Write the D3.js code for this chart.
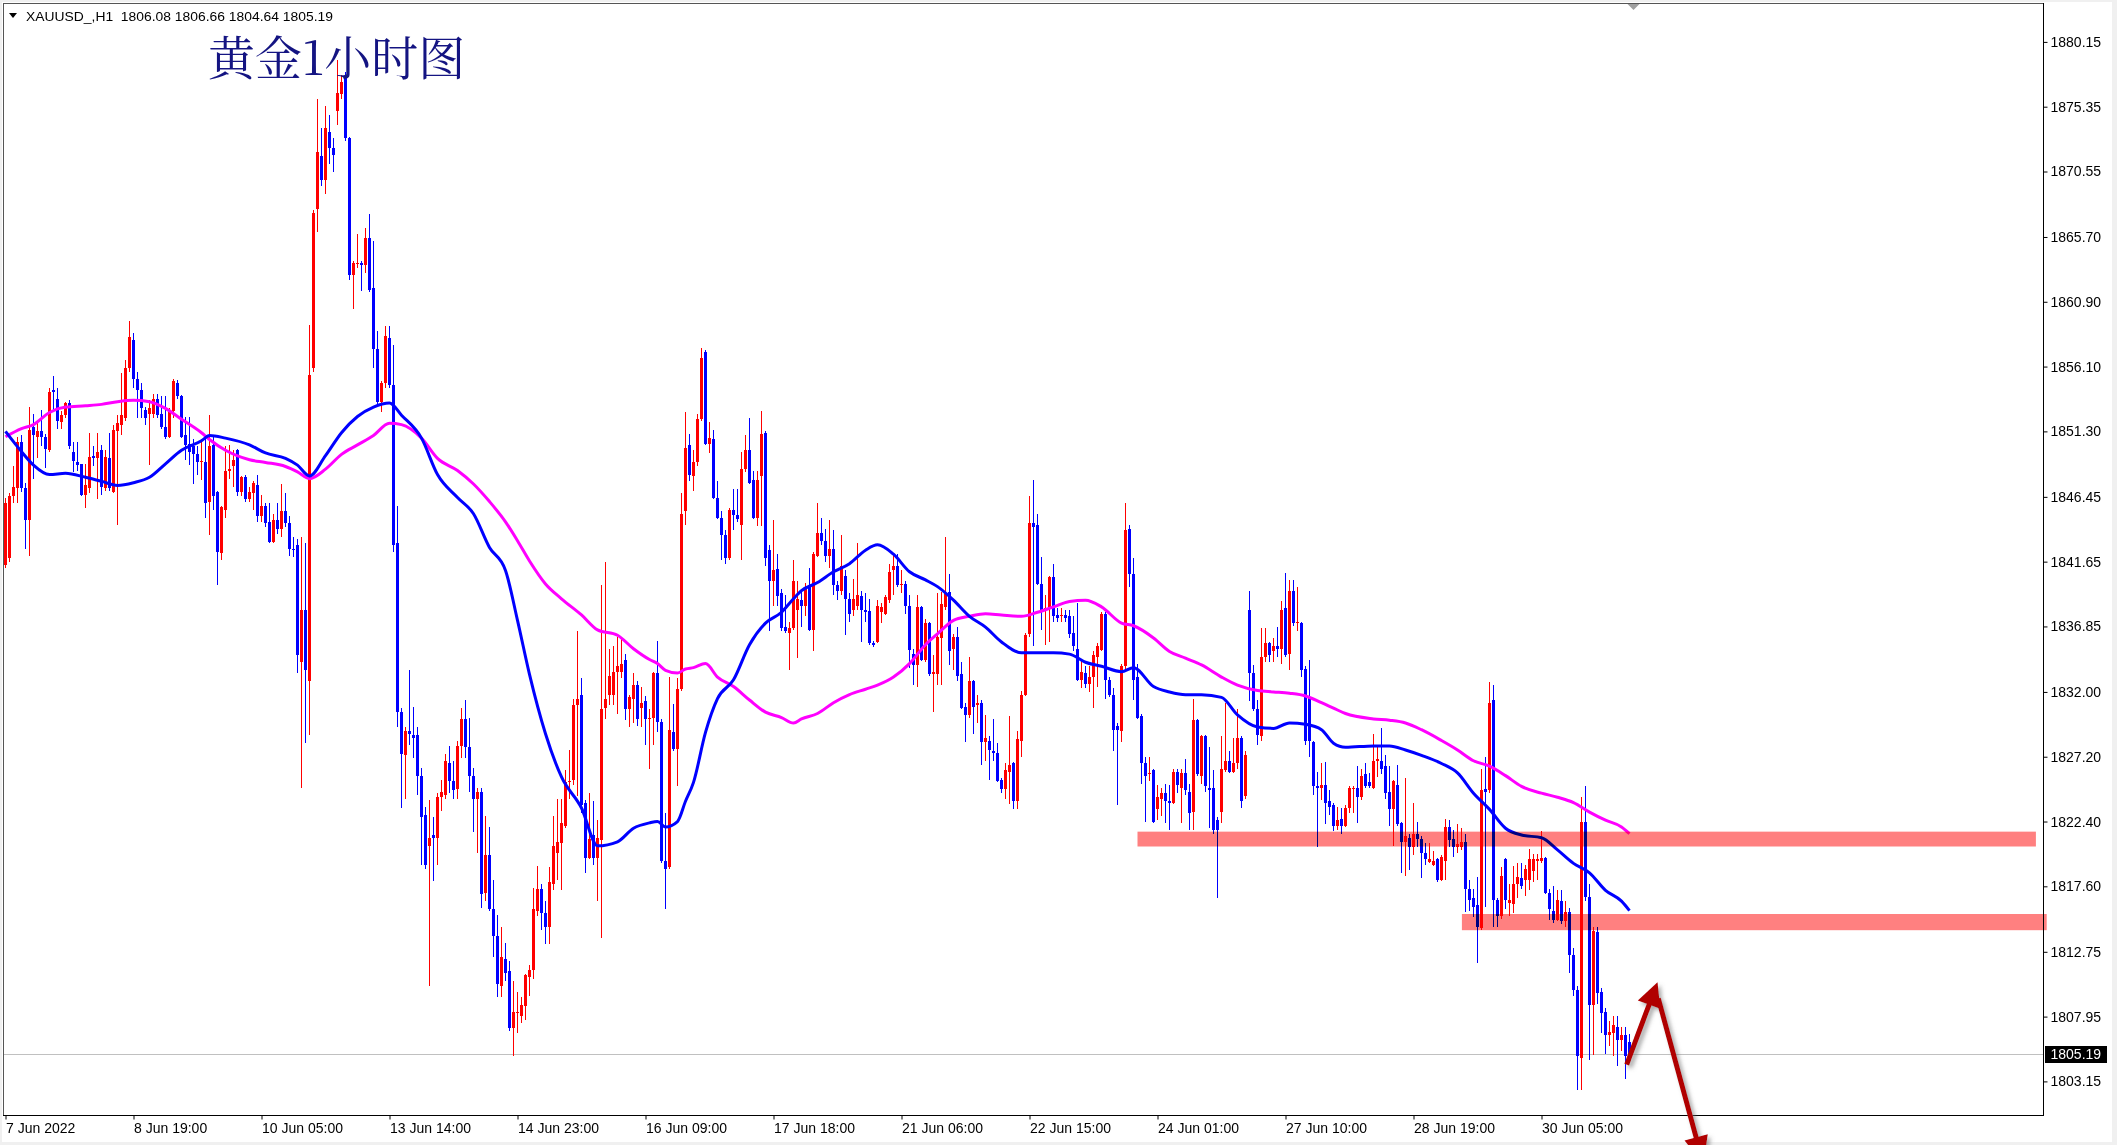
<!DOCTYPE html>
<html><head><meta charset="utf-8">
<script src="https://cdn.jsdelivr.net/npm/d3@7"></script>
<style>
html,body{margin:0;padding:0;background:#fff;overflow:hidden;}
svg{display:block;}
</style></head><body>
<svg id="chart" width="2117" height="1145"></svg>
<script>
// ---------------- DATA ----------------
const headerSymbol = "XAUUSD_,H1";
const headerOHLC = [1806.08, 1806.66, 1804.64, 1805.19];
const chartTitle = "黄金1小时图";
const lastPrice = 1805.19;

const xTickIndex = [0,32,64,96,128,160,192,224,256,288,320,352,384];
const xTickLabels = ["7 Jun 2022","8 Jun 19:00","10 Jun 05:00","13 Jun 14:00","14 Jun 23:00","16 Jun 09:00","17 Jun 18:00","21 Jun 06:00","22 Jun 15:00","24 Jun 01:00","27 Jun 10:00","28 Jun 19:00","30 Jun 05:00"];
const yTickValues = [1880.15,1875.35,1870.55,1865.70,1860.90,1856.10,1851.30,1846.45,1841.65,1836.85,1832.00,1827.20,1822.40,1817.60,1812.75,1807.95,1803.15];

const opens = [
1841.4,1841.9,1846.5,1847.1,1850.5,1847.1,1844.7,1851.6,1850.9,1851.3,
1850.9,1849.9,1854.4,1853.7,1852.0,1852.5,1853.4,1849.8,1849.0,1848.9,
1846.6,1847.1,1849.5,1849.3,1849.9,1847.1,1849.3,1846.8,1851.3,1851.8,
1852.3,1856.0,1858.1,1855.2,1854.4,1852.9,1852.6,1852.6,1853.7,1852.6,
1851.6,1850.9,1852.8,1854.9,1853.9,1851.0,1850.4,1850.2,1849.6,1849.0,
1849.0,1846.1,1850.3,1846.8,1842.3,1845.5,1848.4,1848.7,1849.9,1846.8,
1847.9,1846.3,1846.7,1847.3,1845.0,1845.8,1844.6,1843.1,1844.7,1844.1,
1845.4,1844.5,1842.6,1842.9,1834.2,1838.1,1832.8,1856.0,1867.8,1871.7,
1869.9,1873.5,1872.3,1875.0,1876.3,1877.6,1873.0,1862.9,1863.7,1863.8,
1863.6,1865.6,1861.9,1857.4,1853.5,1854.9,1858.2,1854.7,1843.0,1830.5,
1827.3,1829.1,1828.8,1828.8,1825.8,1822.9,1820.6,1821.4,1821.2,1824.2,
1824.4,1826.7,1825.4,1824.8,1828.0,1830.0,1827.9,1825.8,1824.1,1824.6,
1817.1,1819.9,1815.9,1813.9,1810.2,1812.2,1811.3,1807.1,1808.2,1808.0,
1808.7,1810.9,1811.4,1815.8,1817.4,1815.6,1814.6,1817.8,1820.1,1820.8,
1822.1,1825.3,1825.5,1831.0,1831.8,1823.8,1819.7,1821.4,1819.7,1821.0,
1830.8,1831.8,1831.8,1833.5,1833.5,1834.4,1830.7,1831.5,1832.5,1830.8,
1831.3,1830.0,1830.1,1833.4,1829.8,1819.5,1819.0,1829.0,1827.8,1832.2,
1845.4,1850.3,1848.0,1849.0,1852.2,1857.2,1850.4,1850.7,1846.4,1844.9,
1843.6,1841.9,1845.5,1845.1,1844.4,1848.5,1849.9,1847.7,1844.9,1848.0,
1851.2,1842.5,1840.2,1841.1,1839.3,1836.8,1836.4,1836.7,1838.1,1838.8,
1838.4,1839.8,1836.6,1842.1,1843.8,1843.2,1842.1,1842.6,1839.9,1839.5,
1840.6,1838.9,1838.1,1838.4,1839.1,1838.1,1838.0,1835.6,1835.7,1837.9,
1837.8,1838.8,1841.0,1841.3,1839.9,1840.0,1838.4,1834.8,1834.0,1838.3,
1834.4,1837.1,1833.3,1833.3,1836.0,1838.3,1839.4,1835.2,1836.1,1833.3,
1830.9,1830.3,1832.8,1831.0,1831.2,1828.3,1828.4,1827.6,1827.5,1825.5,
1824.8,1826.1,1826.7,1823.9,1828.4,1831.8,1836.3,1844.5,1844.4,1840.0,
1838.1,1838.2,1840.5,1837.7,1837.6,1837.7,1837.6,1836.4,1835.2,1832.9,
1833.4,1832.6,1833.1,1834.6,1835.1,1837.8,1832.9,1831.8,1829.5,1829.1,
1833.9,1844.1,1840.7,1833.1,1830.2,1826.7,1825.9,1826.2,1823.3,1824.1,
1824.5,1823.9,1823.8,1826.1,1824.9,1826.0,1824.6,1823.1,1829.9,1825.8,
1828.7,1824.9,1824.9,1822.5,1823.1,1826.2,1826.9,1826.1,1826.7,1828.6,
1824.3,1838.1,1833.4,1830.7,1828.7,1834.6,1835.6,1835.0,1835.4,1835.2,
1838.2,1834.8,1839.5,1837.1,1837.1,1833.7,1831.6,1828.3,1825.0,1824.9,
1825.1,1823.9,1823.6,1822.1,1822.6,1822.1,1823.4,1824.8,1824.9,1824.2,
1825.9,1825.3,1824.9,1826.9,1826.9,1826.5,1824.6,1823.3,1825.1,1822.3,
1820.9,1821.2,1820.5,1821.5,1821.1,1820.1,1819.4,1819.2,1819.6,1818.1,
1819.5,1822.0,1821.1,1820.5,1820.5,1820.9,1817.4,1816.7,1816.2,1814.5,
1824.8,1824.7,1831.4,1816.6,1815.4,1819.6,1816.4,1816.3,1817.8,1818.2,
1818.1,1818.1,1818.7,1819.5,1819.5,1819.7,1817.1,1815.8,1815.1,1816.5,
1815.0,1815.7,1812.5,1809.9,1804.9,1822.4,1816.8,1808.8,1814.2,1809.8,
1808.3,1806.6,1806.7,1807.2,1806.2,1806.6,1806.08];

const highs = [
1846.4,1846.7,1848.7,1850.9,1851.0,1847.5,1853.1,1852.6,1852.1,1852.9,
1851.1,1854.5,1855.4,1854.5,1852.8,1853.5,1853.6,1850.5,1850.5,1848.9,
1848.9,1851.2,1850.2,1851.2,1850.3,1849.9,1851.2,1851.8,1852.5,1855.6,
1856.6,1859.5,1858.6,1855.7,1854.9,1853.1,1853.6,1854.1,1854.1,1853.9,
1853.9,1853.0,1855.2,1855.1,1854.0,1852.4,1852.4,1850.7,1850.2,1850.7,
1850.8,1852.5,1850.9,1846.9,1845.8,1850.2,1850.3,1849.9,1850.0,1848.0,
1848.1,1847.2,1847.6,1848.1,1846.6,1846.0,1846.0,1845.2,1846.0,1847.4,
1846.7,1845.0,1843.5,1843.3,1843.5,1843.0,1859.2,1867.7,1875.9,1873.8,
1875.4,1874.7,1873.0,1878.8,1877.7,1877.9,1873.1,1863.9,1865.9,1863.9,
1866.4,1867.4,1865.4,1858.7,1855.0,1859.1,1859.1,1857.7,1845.8,1830.8,
1829.4,1833.6,1830.9,1829.4,1826.4,1823.5,1824.0,1822.7,1824.5,1825.5,
1827.4,1828.0,1826.9,1828.4,1830.8,1831.4,1830.1,1826.4,1824.9,1824.9,
1822.8,1822.0,1818.1,1815.5,1814.6,1813.4,1812.1,1810.6,1809.8,1809.4,
1811.1,1811.8,1817.5,1819.1,1817.8,1816.5,1819.0,1822.8,1824.1,1824.1,
1826.2,1827.7,1831.5,1836.5,1833.0,1824.0,1824.5,1823.9,1822.5,1839.9,
1841.6,1835.2,1835.4,1836.1,1836.1,1834.8,1831.8,1833.4,1832.8,1832.4,
1831.7,1830.7,1833.5,1835.8,1830.0,1823.0,1833.1,1831.1,1833.0,1846.7,
1852.7,1851.1,1849.9,1852.6,1857.5,1857.3,1852.0,1851.4,1847.6,1845.4,
1844.0,1845.6,1847.0,1847.0,1849.8,1851.0,1852.3,1848.4,1848.4,1852.8,
1851.3,1842.9,1844.7,1842.2,1839.6,1839.2,1837.2,1841.8,1840.2,1839.5,
1840.1,1841.2,1842.4,1846.0,1844.9,1844.1,1844.7,1844.0,1840.2,1843.6,
1841.0,1839.3,1840.4,1843.0,1839.5,1839.3,1838.9,1835.8,1838.8,1838.6,
1839.2,1841.5,1842.2,1842.2,1841.0,1840.2,1839.2,1835.2,1839.2,1838.4,
1837.4,1837.2,1834.7,1839.3,1839.4,1843.5,1840.7,1836.3,1836.8,1834.2,
1831.2,1834.6,1832.9,1831.8,1831.4,1830.3,1828.7,1830.0,1828.2,1825.6,
1826.7,1830.2,1826.8,1829.1,1832.1,1836.4,1846.5,1847.7,1845.2,1842.0,
1839.2,1840.6,1841.5,1838.2,1838.2,1838.1,1838.1,1837.6,1838.6,1834.4,
1833.9,1833.9,1835.0,1835.6,1837.9,1837.9,1833.1,1832.3,1829.7,1834.1,
1846.0,1844.4,1841.9,1834.1,1830.4,1827.2,1827.2,1826.3,1825.1,1824.9,
1825.2,1825.1,1826.3,1826.3,1826.3,1827.0,1825.2,1831.5,1830.0,1828.8,
1828.8,1827.9,1826.2,1822.7,1828.7,1831.2,1827.6,1828.6,1830.7,1828.7,
1827.6,1839.5,1834.0,1831.4,1836.7,1836.7,1835.7,1836.0,1836.8,1838.7,
1840.8,1840.3,1840.3,1839.8,1837.2,1833.9,1834.4,1828.4,1826.1,1826.7,
1826.8,1824.7,1823.8,1823.5,1823.4,1823.6,1825.0,1825.0,1826.5,1826.3,
1826.7,1826.0,1828.9,1827.9,1829.3,1827.3,1826.5,1825.5,1826.6,1822.4,
1825.6,1821.5,1823.8,1822.4,1821.3,1820.8,1820.8,1820.2,1819.7,1819.9,
1822.6,1822.5,1821.8,1822.2,1821.9,1821.5,1818.1,1817.4,1818.3,1826.3,
1827.2,1832.7,1832.5,1816.7,1819.0,1819.7,1817.8,1819.1,1819.3,1819.3,
1819.2,1820.4,1820.0,1820.0,1821.7,1819.8,1817.4,1817.6,1817.3,1817.3,
1816.5,1816.0,1813.0,1810.2,1824.2,1825.0,1817.8,1814.6,1814.6,1810.1,
1808.6,1807.6,1808.0,1808.0,1807.2,1807.2,1806.66];

const lows = [
1841.2,1841.6,1846.0,1846.0,1846.8,1842.6,1842.1,1847.8,1849.3,1850.2,
1848.6,1849.8,1852.9,1851.5,1851.5,1852.3,1850.0,1848.3,1848.4,1846.5,
1845.6,1846.7,1848.7,1846.3,1846.6,1846.9,1846.9,1846.7,1844.4,1851.0,
1852.1,1855.7,1854.5,1852.3,1852.3,1851.8,1848.8,1852.3,1852.3,1851.5,
1850.7,1850.8,1852.3,1853.7,1850.8,1849.2,1848.8,1847.4,1848.1,1847.7,
1844.9,1843.6,1845.5,1839.9,1841.8,1844.9,1847.8,1847.2,1846.5,1846.5,
1846.1,1846.1,1845.5,1844.6,1844.6,1844.2,1843.0,1843.0,1843.7,1843.5,
1844.2,1842.1,1842.0,1833.4,1824.9,1828.2,1828.8,1855.7,1866.1,1869.5,
1868.9,1871.1,1870.5,1874.0,1875.9,1872.8,1862.5,1860.4,1863.4,1861.7,
1863.0,1861.6,1856.0,1853.2,1852.7,1854.5,1854.5,1842.4,1829.4,1823.4,
1824.1,1828.1,1827.1,1824.4,1819.2,1818.9,1810.2,1818.0,1819.2,1823.2,
1824.1,1824.5,1824.1,1824.1,1827.1,1827.1,1824.6,1821.6,1820.1,1816.0,
1816.5,1815.8,1812.4,1809.4,1809.4,1810.6,1806.9,1805.0,1806.7,1807.5,
1807.7,1809.5,1810.7,1815.4,1814.4,1813.3,1813.3,1817.3,1818.1,1817.3,
1821.9,1824.1,1825.1,1824.3,1823.0,1818.6,1819.6,1819.2,1816.5,1813.8,
1830.0,1831.0,1831.0,1830.4,1833.0,1829.9,1829.4,1829.7,1829.5,1829.4,
1828.1,1826.3,1828.1,1829.0,1819.3,1815.9,1818.9,1827.6,1825.0,1832.1,
1844.4,1847.6,1846.9,1848.7,1852.1,1850.3,1849.7,1846.3,1844.8,1841.8,
1841.5,1841.8,1844.0,1844.6,1841.8,1848.3,1847.4,1844.8,1844.3,1844.3,
1841.3,1836.5,1838.4,1838.4,1836.5,1836.4,1833.6,1836.6,1834.5,1836.8,
1837.6,1836.5,1835.0,1842.0,1842.9,1841.6,1841.2,1839.2,1838.8,1839.2,
1836.2,1837.2,1837.6,1838.1,1835.7,1837.2,1835.5,1835.3,1835.6,1837.1,
1837.7,1838.6,1839.2,1839.8,1839.3,1837.8,1833.8,1832.5,1832.4,1834.3,
1834.2,1833.2,1830.5,1832.5,1832.5,1838.1,1834.0,1833.6,1832.8,1830.7,
1828.3,1830.1,1828.9,1829.7,1826.6,1826.9,1825.5,1826.9,1825.3,1824.5,
1824.1,1823.7,1823.3,1823.3,1827.2,1831.7,1836.1,1835.4,1839.9,1836.6,
1835.5,1835.7,1837.2,1837.2,1837.2,1837.2,1836.0,1835.0,1832.8,1832.3,
1832.3,1832.0,1830.8,1832.4,1835.0,1831.5,1831.6,1827.6,1823.6,1828.3,
1833.7,1839.8,1831.4,1830.0,1825.2,1822.4,1825.4,1822.3,1822.5,1822.8,
1822.3,1821.8,1823.7,1824.5,1822.3,1824.4,1821.8,1821.8,1825.8,1825.2,
1824.6,1821.9,1821.5,1816.7,1822.3,1826.1,1826.0,1826.0,1826.3,1823.4,
1824.1,1831.3,1830.6,1828.1,1828.4,1834.2,1834.2,1834.2,1834.6,1834.1,
1834.6,1833.6,1836.9,1836.5,1833.1,1828.1,1827.2,1824.4,1820.5,1824.0,
1822.2,1822.9,1821.7,1821.8,1821.5,1822.0,1823.0,1823.0,1822.3,1824.0,
1824.9,1824.9,1824.8,1825.7,1825.9,1824.1,1822.1,1820.6,1822.1,1818.6,
1818.4,1818.8,1819.9,1820.5,1818.2,1819.2,1819.3,1819.1,1817.9,1818.0,
1818.1,1820.5,1819.8,1820.1,1820.3,1815.7,1815.8,1815.3,1811.9,1814.4,
1816.1,1824.5,1814.6,1814.6,1815.2,1815.9,1815.4,1815.6,1816.7,1817.4,
1816.9,1817.3,1817.9,1818.1,1819.3,1817.0,1815.1,1814.9,1815.0,1814.8,
1814.6,1811.2,1809.5,1802.5,1802.5,1816.5,1804.7,1805.1,1808.9,1806.7,
1805.2,1805.8,1805.0,1804.3,1805.4,1803.3,1804.64];

const closes = [
1846.0,1846.5,1847.2,1850.5,1847.1,1844.7,1851.4,1851.0,1851.3,1850.9,
1850.0,1854.2,1854.2,1852.1,1852.5,1853.4,1850.2,1849.1,1848.8,1846.6,
1847.3,1849.4,1849.3,1849.8,1847.2,1849.4,1847.1,1851.4,1851.9,1852.5,
1856.0,1858.3,1855.2,1854.4,1853.0,1852.3,1853.0,1853.7,1852.5,1851.6,
1850.9,1852.8,1855.0,1853.9,1850.9,1850.3,1849.8,1849.6,1849.0,1849.1,
1846.0,1850.2,1846.5,1842.4,1845.7,1848.4,1848.5,1849.2,1846.8,1847.9,
1846.3,1846.8,1847.5,1845.0,1845.8,1844.5,1843.1,1844.7,1844.1,1845.4,
1844.5,1842.6,1842.5,1834.7,1838.1,1833.6,1855.5,1867.5,1872.0,1869.9,
1873.8,1872.3,1871.8,1876.4,1877.2,1873.0,1862.9,1863.8,1863.8,1863.6,
1865.6,1861.8,1857.4,1853.5,1854.9,1858.4,1854.7,1842.9,1830.5,1827.4,
1829.1,1828.9,1828.6,1825.8,1822.7,1819.2,1821.2,1821.2,1824.2,1824.6,
1826.9,1825.4,1824.7,1828.0,1830.0,1827.9,1825.8,1824.1,1824.6,1817.0,
1819.9,1815.9,1813.9,1810.4,1812.4,1811.2,1807.1,1808.3,1808.3,1808.8,
1811.0,1811.4,1815.9,1817.4,1815.6,1814.6,1817.9,1820.6,1820.9,1822.3,
1825.3,1825.4,1831.0,1831.5,1823.6,1819.7,1821.1,1819.7,1821.2,1830.7,
1831.5,1833.2,1833.5,1833.9,1834.1,1830.7,1831.6,1832.5,1830.0,1831.2,
1830.0,1830.1,1833.4,1829.8,1819.5,1818.9,1829.2,1827.8,1832.2,1845.2,
1850.1,1848.1,1849.0,1852.2,1856.7,1850.4,1850.8,1846.4,1844.9,1843.6,
1841.9,1845.5,1845.1,1844.8,1848.5,1849.9,1847.5,1844.9,1847.7,1851.1,
1841.9,1840.2,1841.0,1839.1,1836.7,1836.5,1836.7,1840.2,1838.9,1838.4,
1839.8,1836.6,1842.2,1843.8,1843.2,1842.1,1842.6,1839.9,1839.5,1841.3,
1838.9,1837.8,1838.9,1839.2,1838.1,1837.9,1835.6,1835.5,1838.4,1838.3,
1839.0,1840.9,1841.3,1839.9,1840.0,1838.4,1835.1,1834.0,1838.3,1834.4,
1837.1,1833.3,1833.5,1836.1,1838.5,1839.3,1835.0,1836.1,1833.2,1830.8,
1830.3,1832.8,1830.9,1831.2,1828.3,1828.6,1827.7,1827.5,1825.4,1824.8,
1826.2,1826.6,1823.9,1828.5,1831.8,1836.2,1844.5,1844.2,1840.0,1838.1,
1838.2,1840.5,1837.6,1837.5,1837.7,1837.5,1836.3,1835.4,1832.9,1833.5,
1832.6,1833.1,1834.7,1835.4,1837.8,1832.9,1831.8,1829.2,1829.2,1833.9,
1844.0,1840.7,1832.9,1830.1,1826.7,1825.8,1826.0,1822.4,1824.2,1824.5,
1823.9,1823.8,1826.1,1825.1,1826.0,1824.7,1823.0,1829.9,1825.9,1828.7,
1825.0,1824.7,1821.8,1821.8,1826.3,1826.9,1826.1,1826.7,1828.6,1823.9,
1827.3,1833.4,1830.7,1828.8,1834.6,1835.6,1834.7,1835.4,1835.2,1838.1,
1834.7,1839.5,1837.1,1837.2,1833.6,1828.4,1828.4,1825.0,1824.9,1825.1,
1823.8,1823.5,1822.1,1822.5,1822.1,1823.4,1824.9,1824.9,1824.2,1825.8,
1825.0,1825.0,1826.9,1827.0,1826.3,1824.5,1823.3,1825.4,1822.2,1820.9,
1821.3,1820.5,1821.5,1821.1,1820.1,1819.6,1819.6,1819.5,1818.1,1819.8,
1822.0,1821.0,1820.5,1820.7,1820.9,1817.4,1816.6,1816.1,1814.6,1824.7,
1824.6,1831.2,1816.6,1815.4,1818.4,1816.6,1816.6,1817.8,1818.3,1817.6,
1818.9,1819.6,1819.6,1819.6,1819.7,1817.1,1815.9,1815.1,1816.6,1815.0,
1815.7,1812.5,1809.9,1805.0,1822.4,1816.8,1808.8,1814.3,1809.7,1808.2,
1806.6,1806.8,1807.3,1806.2,1806.6,1805.0,1805.19];

const maIndex = [0,4,7,11,15,20,24,28,32,36,40,44,49,51,55,61,65,70,73,76,80,84,88,92,96,99,104,108,113,117,121,125,128,131,135,139,144,148,153,157,161,163,165,168,170,172,175,178,182,186,190,194,197,199,203,207,211,215,218,222,226,230,233,237,241,245,249,254,258,262,266,270,274,279,282,287,291,295,299,304,308,313,317,321,325,329,332,335,342,346,350,354,359,363,367,371,375,379,384,388,392,396,400,404,406];
const maFast = [1851.3,1849.8,1848.8,1848.1,1848.2,1847.9,1847.6,1847.3,1847.5,1847.9,1848.9,1849.9,1850.6,1851.0,1850.8,1850.3,1849.7,1849.3,1848.8,1848.0,1849.5,1851.2,1852.4,1853.1,1853.4,1852.5,1850.8,1848.1,1846.4,1845.2,1842.7,1841.0,1837.3,1833.3,1828.9,1825.7,1823.4,1820.6,1820.9,1821.9,1822.3,1822.4,1822.0,1822.4,1823.9,1825.3,1829.0,1831.5,1832.9,1835.5,1837.1,1837.9,1838.9,1839.5,1840.1,1840.9,1841.5,1842.5,1842.9,1842.2,1840.9,1840.3,1839.8,1838.8,1837.6,1836.8,1835.7,1834.9,1834.9,1834.9,1834.8,1834.2,1833.9,1833.5,1833.8,1832.4,1832.0,1831.8,1831.8,1831.6,1830.3,1829.4,1829.3,1829.7,1829.6,1829.2,1828.2,1827.9,1828.0,1828.0,1827.7,1827.3,1826.7,1826.0,1824.5,1823.3,1821.9,1821.4,1821.2,1820.3,1819.3,1818.6,1817.3,1816.5,1815.8];
const maSlow = [1850.9,1851.5,1851.8,1852.7,1853.1,1853.2,1853.3,1853.5,1853.6,1853.5,1853.0,1852.2,1851.2,1850.7,1849.9,1849.2,1849.0,1848.7,1848.3,1847.8,1848.5,1849.6,1850.3,1851.0,1851.9,1851.8,1850.8,1849.3,1848.4,1847.4,1846.1,1844.6,1843.2,1841.7,1840.0,1838.9,1837.7,1836.6,1836.2,1835.2,1834.4,1834.1,1833.6,1833.4,1833.7,1833.8,1834.1,1833.1,1832.4,1831.4,1830.5,1830.1,1829.7,1830.0,1830.4,1831.2,1831.8,1832.2,1832.5,1833.1,1834.1,1835.5,1836.3,1837.3,1837.6,1837.8,1837.7,1837.6,1837.9,1838.3,1838.7,1838.8,1838.3,1837.1,1836.9,1836.0,1835.0,1834.5,1834.0,1833.1,1832.5,1832.1,1832.0,1831.9,1831.7,1831.2,1830.8,1830.4,1830.0,1829.9,1829.7,1829.2,1828.4,1827.7,1826.9,1826.5,1825.8,1825.0,1824.5,1824.2,1823.8,1823.1,1822.5,1822.0,1821.5];

// support / resistance bands (bar index span and price span)
const zoneFrom = [283, 364.1];
const zoneTo = [507.6, 510.3];
const zoneHigh = [1821.65, 1815.55];
const zoneLow = [1820.55, 1814.35];

// annotation arrows (bar index, price)
const arrowUp = [[405.3, 1804.4], [413.0, 1810.5]];
const arrowDown = [[413.2, 1809.3], [424.5, 1797.0]];

// ---------------- DRAW ----------------
const W = 2117, H = 1145;
const plotL = 3.5, plotR = 2043.5, plotT = 3.5, plotB = 1115.5;
const svg = d3.select("#chart");
const axisFont = "'Liberation Sans', Arial, sans-serif";

const x = d3.scaleLinear().domain([0, 384]).range([5.5, 1541.5]);
const y = d3.scaleLinear().domain([1803.15, 1880.15]).range([1081.4, 41.9]);

const defs = svg.append("defs");
defs.append("clipPath").attr("id", "plotClip")
  .append("rect").attr("x", 4).attr("y", 4).attr("width", 2039).attr("height", 1111);
const shadow = defs.append("filter").attr("id", "shadow")
  .attr("x", "-50%").attr("y", "-50%").attr("width", "200%").attr("height", "200%");
shadow.append("feDropShadow").attr("dx", 3).attr("dy", 3).attr("stdDeviation", 2)
  .attr("flood-color", "#707070").attr("flood-opacity", 0.6);

// window background
svg.append("rect").attr("width", W).attr("height", H).attr("fill", "#f0f0f0");
svg.append("rect").attr("x", 2).attr("y", 2).attr("width", 2110).attr("height", 1140).attr("fill", "#ffffff");

// current price line
const py = Math.round(y(lastPrice)) + 0.5;
svg.append("line").attr("x1", 4).attr("x2", plotR).attr("y1", py).attr("y2", py)
  .attr("stroke", "#c0c0c0").attr("stroke-width", 1);

// candles
const bars = d3.range(opens.length).map(i => ({i, o: opens[i], h: highs[i], l: lows[i], c: closes[i]}));
const cg = svg.append("g").attr("clip-path", "url(#plotClip)");
const candle = cg.selectAll("g.c").data(bars).join("g").attr("class", "c")
  .attr("fill", d => d.c >= d.o ? "#ff0000" : "#0000ff");
candle.append("rect")
  .attr("x", d => x(d.i) - 0.5).attr("width", 1)
  .attr("y", d => Math.round(y(d.h)))
  .attr("height", d => Math.max(1, Math.round(y(d.l)) - Math.round(y(d.h))));
candle.append("rect")
  .attr("x", d => x(d.i) - 1.5).attr("width", 3)
  .attr("y", d => Math.round(y(Math.max(d.o, d.c))))
  .attr("height", d => Math.max(1, Math.round(y(Math.min(d.o, d.c))) - Math.round(y(Math.max(d.o, d.c)))));

// moving averages
const lineGen = vals => d3.line().x((d, k) => x(maIndex[k])).y(d => y(d)).curve(d3.curveMonotoneX)(vals);
cg.append("path").attr("d", lineGen(maSlow)).attr("fill", "none")
  .attr("stroke", "#ff00ff").attr("stroke-width", 3);
cg.append("path").attr("d", lineGen(maFast)).attr("fill", "none")
  .attr("stroke", "#0000ff").attr("stroke-width", 3);

// zones (multiply-blended)
svg.append("g").selectAll("rect").data(d3.range(zoneFrom.length)).join("rect")
  .attr("x", k => x(zoneFrom[k])).attr("width", k => x(zoneTo[k]) - x(zoneFrom[k]))
  .attr("y", k => y(zoneHigh[k])).attr("height", k => y(zoneLow[k]) - y(zoneHigh[k]))
  .attr("fill", "#ff8080").style("mix-blend-mode", "multiply");

// frame
const frame = svg.append("g").attr("stroke", "#000").attr("stroke-width", 1);
frame.append("line").attr("x1", 3).attr("x2", plotR).attr("y1", plotT).attr("y2", plotT).attr("stroke", "#555");
frame.append("line").attr("x1", plotL).attr("x2", plotL).attr("y1", 3).attr("y2", plotB).attr("stroke", "#555");
frame.append("line").attr("x1", plotR).attr("x2", plotR).attr("y1", 3).attr("y2", plotB + 0.5);
frame.append("line").attr("x1", 3).attr("x2", plotR).attr("y1", plotB).attr("y2", plotB);

// y axis
const yAxis = d3.axisRight(y).tickValues(yTickValues).tickSize(4).tickPadding(3)
  .tickFormat(d => d.toFixed(2));
svg.append("g").attr("transform", `translate(${plotR},0)`).call(yAxis)
  .attr("font-family", axisFont).attr("font-size", 14)
  .call(g => g.select(".domain").remove())
  .call(g => g.selectAll("text").attr("fill", "#000"));

// x axis
const xAxis = d3.axisBottom(x).tickValues(xTickIndex).tickSize(4).tickPadding(3.5)
  .tickFormat((d, k) => xTickLabels[k]);
svg.append("g").attr("transform", `translate(0,${plotB})`).call(xAxis)
  .attr("font-family", axisFont).attr("font-size", 14)
  .call(g => g.select(".domain").remove())
  .call(g => g.selectAll("text").attr("text-anchor", "start").attr("fill", "#000"));

// current price tag
svg.append("rect").attr("x", 2045).attr("y", Math.round(y(lastPrice)) - 8)
  .attr("width", 62).attr("height", 17).attr("fill", "#000");
svg.append("text").attr("x", 2050.5).attr("y", y(lastPrice)).attr("dy", "0.36em")
  .attr("font-family", axisFont).attr("font-size", 14).attr("fill", "#fff")
  .text(lastPrice.toFixed(2));

// header
svg.append("path").attr("d", "M9,13 L17,13 L13,18 Z").attr("fill", "#000");
svg.append("text").attr("x", 26).attr("y", 20.7)
  .attr("font-family", axisFont).attr("font-size", 13.5).attr("fill", "#000")
  .style("white-space", "pre")
  .attr("textLength", 307).attr("lengthAdjust", "spacingAndGlyphs")
  .text(`${headerSymbol}  ${headerOHLC.map(v => v.toFixed(2)).join(" ")}`);

// chart shift marker
const sx = x(407);
svg.append("path").attr("d", `M${sx - 6},4 L${sx + 6},4 L${sx},10 Z`).attr("fill", "#a0a0a0");

// title
svg.append("text").attr("x", 208).attr("y", 75)
  .attr("font-family", "'Noto Serif CJK SC', 'Liberation Serif', 'Noto Sans CJK SC', serif")
  .attr("font-size", 47)
  .attr("fill", "#141482").text(chartTitle);

// arrows
const ag = svg.append("g").attr("filter", "url(#shadow)");
function drawArrow(pts, headLen, headHalf) {
  const p0 = [x(pts[0][0]), y(pts[0][1])];
  const p1 = [x(pts[1][0]), y(pts[1][1])];
  const dx = p1[0] - p0[0], dy = p1[1] - p0[1];
  const len = Math.hypot(dx, dy);
  const ux = dx / len, uy = dy / len;
  const bx = p1[0] - ux * headLen, by = p1[1] - uy * headLen;
  ag.append("line").attr("x1", p0[0]).attr("y1", p0[1]).attr("x2", bx + ux * 2).attr("y2", by + uy * 2)
    .attr("stroke", "#b00000").attr("stroke-width", 5);
  ag.append("path")
    .attr("d", `M${p1[0]},${p1[1]} L${bx - uy * headHalf},${by + ux * headHalf} L${bx + uy * headHalf},${by - ux * headHalf} Z`)
    .attr("fill", "#b00000");
}
drawArrow(arrowUp, 24, 12);
drawArrow(arrowDown, 28, 12);
</script>
</body></html>
